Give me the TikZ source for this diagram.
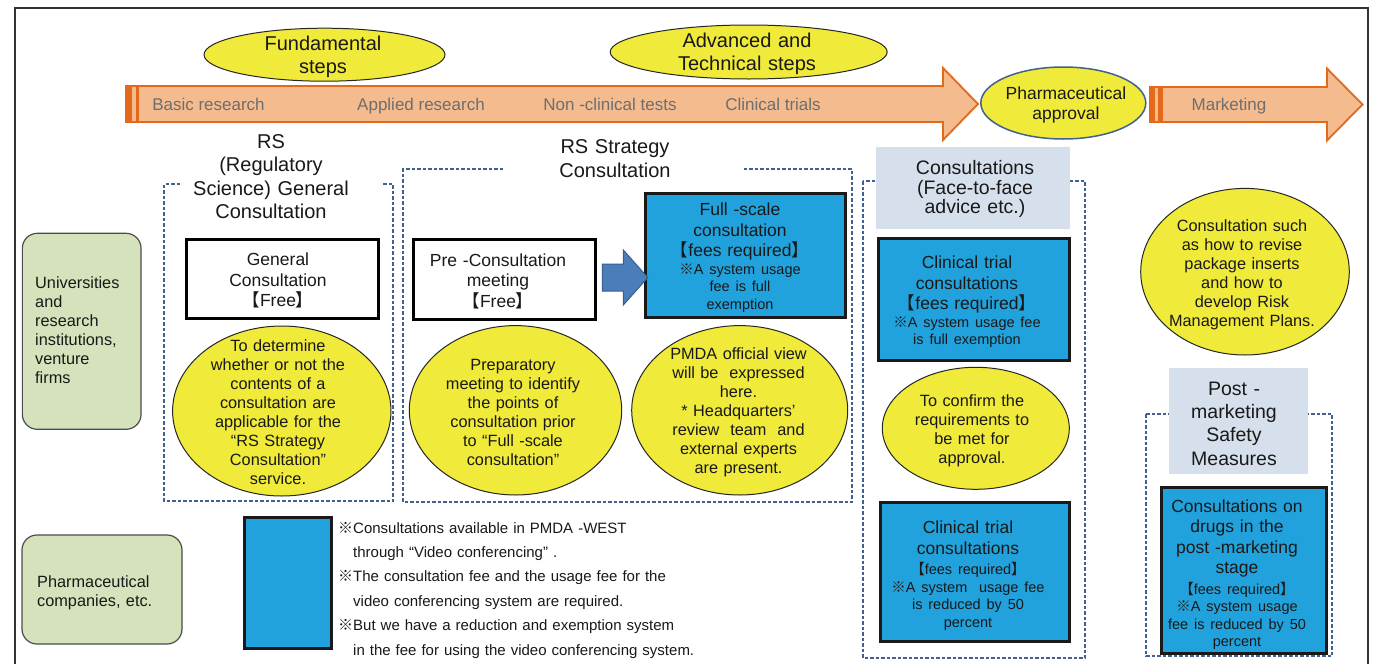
\documentclass[tikz,border=0pt]{standalone}
\usepackage{fontspec}
\setmainfont{Liberation Sans}
\newfontfamily\cjkf{Noto Sans CJK JP}
\usetikzlibrary{shapes.geometric,calc}
\definecolor{yel}{RGB}{240,234,58}
\definecolor{cyanbox}{RGB}{34,162,220}
\definecolor{hdr}{RGB}{214,224,236}
\definecolor{grn}{RGB}{213,226,187}
\definecolor{ofill}{RGB}{244,187,142}
\definecolor{oline}{RGB}{226,106,26}
\definecolor{otext}{RGB}{110,110,110}
\definecolor{dashc}{RGB}{65,97,143}
\definecolor{txt}{RGB}{25,25,25}
\definecolor{barrow}{RGB}{75,125,185}
\definecolor{barrowline}{RGB}{55,95,150}
\newcommand{\km}{{\cjkf ※}}
\newcommand{\lbk}{{\cjkf 【}}
\newcommand{\rbk}{{\cjkf 】}}
\newcommand{\fbig}{\fontsize{20}{23.3}\selectfont}
\newcommand{\fmid}{\fontsize{17.5}{20.5}\selectfont}
\newcommand{\fell}{\fontsize{16.3}{19}\selectfont}
\newcommand{\fsm}{\fontsize{14.5}{17.5}\selectfont}
\newcommand{\fnote}{\fontsize{15}{24.4}\selectfont}
\tikzset{
  every node/.style={text=txt, inner sep=0pt},
  wbox/.style={draw=black, line width=3pt, fill=white, rectangle},
  bbox/.style={draw=black!90, line width=3pt, fill=cyanbox, rectangle},
  yell/.style={draw=black!85, line width=1pt, fill=yel, ellipse},
  hbox/.style={fill=hdr, rectangle},
  gbox/.style={draw=black!70, line width=1.2pt, fill=grn, rounded corners=15pt, rectangle},
  dbox/.style={draw=dashc, line width=1.2pt, dash pattern=on 3.5pt off 2pt},
  tl/.style={align=center, text width=#1},
  oarrow/.style={fill=ofill, draw=oline, line width=1.8pt, line join=miter},
  otxt/.style={text=otext, font=\fontsize{17}{20}\selectfont, anchor=base},
}
\begin{document}
\begin{tikzpicture}[x=1pt,y=-1pt]
\useasboundingbox (0,0) rectangle (1379,664);
\fill[white] (0,0) rectangle (1379,664);
% frame
\draw[line width=2pt, black!80] (15,700) -- (15,8) -- (1368,8) -- (1368,700);

% timeline arrow 1
\path[oarrow] (138,86) -- (943,86) -- (943,68) -- (978,104) -- (943,140) -- (943,122) -- (138,122) -- cycle;
\fill[oline] (125,85.1) rectangle (138.5,122.9);
\fill[ofill] (131.8,87) rectangle (135.5,121);
\node[otxt] (t1) at (208.5,110) {Basic research};
\node[otxt] (t2) at (421,110) {Applied research};
\node[otxt] (t3) at (610,110) {Non -clinical tests};
\node[otxt] (t4) at (773,110) {Clinical trials};

% timeline arrow 2
\path[oarrow] (1162,87) -- (1327,87) -- (1327,68.5) -- (1362.5,104.5) -- (1327,140.5) -- (1327,122) -- (1162,122) -- cycle;
\fill[oline] (1149,86.1) rectangle (1162.5,122.9);
\fill[ofill] (1155,88) rectangle (1158,121);
\node[otxt] (t5) at (1229,110) {Marketing};

% step ellipses
\node[yell, minimum width=241, minimum height=53] (fund) at (324.5,54.7) {};
\node[tl=200, font=\fbig] (fundt) at (323,56.5) {Fundamental\\steps};
\node[yell, minimum width=277, minimum height=54] (adv) at (748.7,52) {};
\node[tl=250, font=\fbig] (advt) at (747,53.5) {Advanced and\\Technical steps};
\node[yell, draw=dashc, line width=1.5pt, minimum width=165, minimum height=72] (appr) at (1063.3,103) {};
\node[tl=150, font=\fontsize{17.5}{20}\selectfont] (apprt) at (1066,105) {Pharmaceutical\\approval};

% dashed groups
\draw[dbox] (180,184) -- (164,184) -- (164,501) -- (393,501) -- (393,184) -- (381,184);
\draw[dbox] (503,169) -- (403,169) -- (403,502) -- (852,502) -- (852,169) -- (742,169);
\draw[dbox] (863,181) rectangle (1085,658);
\draw[dbox] (1146,414) rectangle (1332,656);

% titles
\node[tl=200, font=\fbig] (rst) at (271,176.7) {RS\\(Regulatory\\Science) General\\Consultation};
\node[tl=200, font=\fbig] (rsst) at (615,158.7) {RS Strategy\\Consultation};

% RS general
\node[wbox, minimum width=192, minimum height=79.4] (gen) at (282.5,279) {};
\node[tl=180, font=\fmid] (gent) at (278,280.5) {General\\Consultation\\\lbk Free\rbk};
\node[yell, minimum width=218.4, minimum height=170] (ell1) at (281.8,411) {};
\node[tl=200, font=\fell] (ell1t) at (278,412.5) {To determine\\whether or not the\\contents of a\\consultation are\\applicable for the\\“RS Strategy\\Consultation”\\service.};

% RS strategy
\node[wbox, minimum width=182.6, minimum height=79.4] (pre) at (504.5,279.5) {};
\node[tl=180, font=\fmid] (pret) at (498,281) {Pre -Consultation\\meeting\\\lbk Free\rbk};
\node[bbox, minimum width=199.4, minimum height=124.6] (full) at (745.5,255.5) {};
\node[tl=190, font=\fmid] (fullt) at (740,257.5) {Full -scale\\consultation\\\lbk fees required\rbk\par{\fsm\km A system usage\\fee is full\\exemption\par}};
\coordinate (arrS) at ($(pre.east)+(5,-2)$);
\path[fill=barrow, draw=barrowline, line width=1pt] (arrS) ++(0,-13.5) -- ++(21,0) -- ++(0,-14) -- ++(24.5,27.5) -- ++(-24.5,27.5) -- ++(0,-14) -- ++(-21,0) -- cycle;
\node[yell, minimum width=212.4, minimum height=169.4] (ell2) at (515.5,410.3) {};
\node[tl=200, font=\fell] (ell2t) at (513,412.5) {Preparatory\\meeting to identify\\the points of\\consultation prior\\to “Full -scale\\consultation”};
\node[yell, minimum width=216, minimum height=169.4] (ell3) at (739.7,410.3) {};
\node[tl=200, font=\fell] (ell3t) at (738.5,412.5) {PMDA official view\\will be \ expressed\\here.\\{}* Headquarters’\\review \ team \ and\\external experts\\are present.};

% consultations face-to-face
\node[hbox, minimum width=194.3, minimum height=82] (chdr) at (972.8,188.3) {};
\node[tl=190, font=\fontsize{19.5}{19.8}\selectfont] (chdrt) at (975,189) {Consultations\\(Face-to-face\\advice etc.)};
\node[bbox, minimum width=191.3, minimum height=122] (ct1) at (973.8,299.2) {};
\node[tl=185, font=\fmid] (ct1t) at (967,302) {Clinical trial\\consultations\\\lbk fees required\rbk\par{\fsm\km A system usage fee\\is full exemption\par}};
\node[yell, minimum width=187, minimum height=122] (ell4) at (975.8,428.3) {};
\node[tl=180, font=\fell] (ell4t) at (972,431) {To confirm the\\requirements to\\be met for\\approval.};
\node[bbox, minimum width=188.4, minimum height=139.6] (ct2) at (975,572) {};
\node[tl=185, font=\fmid] (ct2t) at (968,575.5) {Clinical trial\\consultations\par\vspace{3pt}{\fsm\lbk fees required\rbk\\\km A system \ usage fee\\is reduced by 50\\percent\par}};

% post-marketing
\node[yell, minimum width=208.6, minimum height=166.6] (ell5) at (1245,271.7) {};
\node[tl=200, font=\fell] (ell5t) at (1242,274.5) {Consultation such\\as how to revise\\package inserts\\and how to\\develop Risk\\Management Plans.};
\node[hbox, minimum width=139.3, minimum height=106] (phdr) at (1238.7,421.3) {};
\node[tl=135, font=\fontsize{19.5}{23.3}\selectfont] (phdrt) at (1234,423.5) {Post -\\marketing\\Safety\\Measures};
\node[bbox, minimum width=165.3, minimum height=166] (pm) at (1244.2,570.5) {};
\node[tl=160, font=\fmid] (pmt) at (1237,574.5) {Consultations on\\drugs in the\\post -marketing\\stage\par\vspace{3pt}{\fsm\lbk fees required\rbk\\\km A system usage\\fee is reduced by 50\\percent\par}};

% applicants
\node[gbox, minimum width=118.7, minimum height=196] (uni) at (81.7,331.3) {};
\node[align=left, text width=100, anchor=west, font=\fell] (unit) at (35,330) {Universities\\and\\research\\institutions,\\venture\\firms};
\node[gbox, minimum width=160, minimum height=109] (phc) at (102,589.5) {};
\node[align=left, text width=135, anchor=west, font=\fontsize{16.3}{19}\selectfont] (phct) at (37,593) {Pharmaceutical\\companies, etc.};

% video conferencing legend
\node[bbox, minimum width=87, minimum height=131] (vid) at (288,583) {};
\node[align=left, text width=420, anchor=west, font=\fnote] (notes) at (338,590) {\km Consultations available in PMDA -WEST\\\hspace*{15pt}through “Video conferencing” .\\\km The consultation fee and the usage fee for the\\\hspace*{15pt}video conferencing system are required.\\\km But we have a reduction and exemption system\\\hspace*{15pt}in the fee for using the video conferencing system.};
\end{tikzpicture}
\end{document}
